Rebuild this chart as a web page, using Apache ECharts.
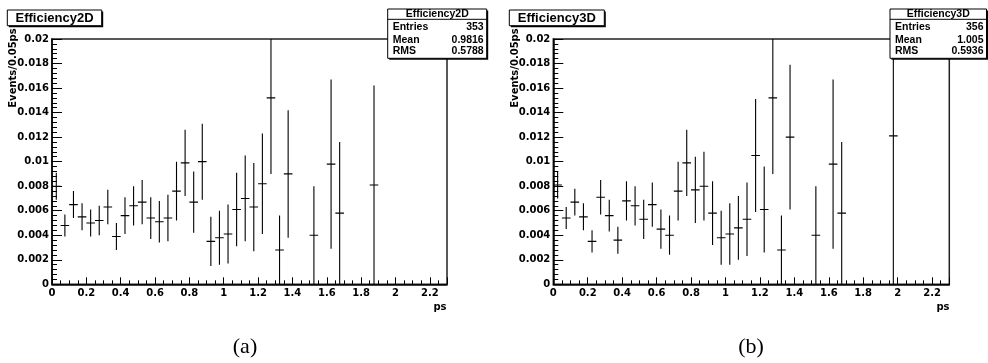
<!DOCTYPE html>
<html><head><meta charset="utf-8">
<script src="https://cdn.jsdelivr.net/npm/echarts@6/dist/echarts.min.js"></script>
<style>html,body{margin:0;padding:0;background:#fff}#c{width:988px;height:363px}</style>
</head><body><div id="c"></div>
<script>
// ---- data (bin centres in ps, value, error) ----
const x2D = [0.025,0.075,0.125,0.175,0.225,0.275,0.325,0.375,0.425,0.475,0.525,0.575,0.625,0.675,0.725,0.775,0.825,0.875,0.925,0.975,1.025,1.075,1.125,1.175,1.225,1.275,1.325,1.375,1.525,1.625,1.675,1.875];
const y2D = [0.0080,0.0048,0.0065,0.0055,0.0050,0.0052,0.0063,0.0039,0.0056,0.0064,0.0067,0.0054,0.0051,0.0054,0.0076,0.0099,0.0067,0.0100,0.0035,0.0038,0.0041,0.0061,0.0070,0.0063,0.0082,0.0152,0.0028,0.0090,0.0040,0.0098,0.0058,0.0081];
const e2D = [0.0011,0.0009,0.0011,0.0011,0.0011,0.0012,0.0014,0.0011,0.0015,0.0016,0.0018,0.0017,0.0017,0.0019,0.0024,0.0027,0.0025,0.0031,0.0020,0.0022,0.0024,0.0030,0.0035,0.0036,0.0041,0.0062,0.0028,0.0052,0.0040,0.0069,0.0058,0.0081];

const x3D = [0.025,0.075,0.125,0.175,0.225,0.275,0.325,0.375,0.425,0.475,0.525,0.575,0.625,0.675,0.725,0.775,0.825,0.875,0.925,0.975,1.025,1.075,1.125,1.175,1.225,1.275,1.325,1.375,1.525,1.625,1.675,1.975];
const y3D = [0.0081,0.0054,0.0067,0.0055,0.0035,0.0071,0.0056,0.0036,0.0068,0.0064,0.0053,0.0065,0.0045,0.0040,0.0076,0.0099,0.0077,0.0080,0.0058,0.0038,0.0041,0.0046,0.0053,0.0105,0.0061,0.0152,0.0028,0.0120,0.0040,0.0098,0.0058,0.0121];
const e3D = [0.0011,0.0009,0.0011,0.0011,0.0009,0.0014,0.0013,0.0011,0.0016,0.0016,0.0016,0.0018,0.0016,0.0016,0.0024,0.0027,0.0027,0.0028,0.0026,0.0022,0.0025,0.0026,0.0030,0.0046,0.0035,0.0062,0.0028,0.0059,0.0040,0.0069,0.0058,0.0121];

const binHalf = 0.025;
const titles = ['Efficiency2D','Efficiency3D'];
const statsLabels = ['Entries','Mean','RMS'];
const stats2D = ['353','0.9816','0.5788'];
const stats3D = ['356','1.005','0.5936'];
const yTitle = 'Events/0.05ps';
const xTitle = 'ps';
const captions = ['(a)','(b)'];

const FONT = '"Liberation Sans", Arial, Helvetica, sans-serif';
const TFONT = '"DejaVu Sans", Verdana, sans-serif';
const chart = echarts.init(document.getElementById('c'), null, {renderer:'canvas'});

function mkData(xs, ys, es){ return xs.map((x,i)=>[x, ys[i], es[i]]); }

function renderItem(params, api){
  const x = api.value(0), y = api.value(1), e = api.value(2);
  const cs = params.coordSys;
  const top = api.coord([x, y + e]);
  const bot = api.coord([x, Math.max(y - e, 0)]);
  const l = api.coord([x - binHalf, y]);
  const r = api.coord([x + binHalf, y]);
  const topY = Math.max(top[1], cs.y);
  const st = {stroke:'#000', lineWidth:1.1};
  return {type:'group', children:[
    {type:'line', shape:{x1:top[0], y1:topY, x2:bot[0], y2:bot[1]}, style:st},
    {type:'line', shape:{x1:l[0], y1:l[1], x2:r[0], y2:r[1]}, style:st}
  ]};
}

const grids = [
  {left:52, top:39, width:395, height:245.3},
  {left:553.3, top:39, width:396, height:245.3}
];

function xAx(i){
  return {type:'value', gridIndex:i, min:0, max:2.3, interval:0.2,
    axisLine:{show:true, onZero:false, lineStyle:{color:'#000', width:1.5}},
    axisTick:{show:true, inside:true, length:7, lineStyle:{color:'#000', width:1}},
    minorTick:{show:true, splitNumber:4, length:4, lineStyle:{color:'#000', width:1}},
    splitLine:{show:false},
    axisLabel:{show:true, margin:4, color:'#000', fontFamily:TFONT, fontWeight:'bold', fontSize:10, showMaxLabel:false,
      formatter:v=> (Math.abs(v-2.3)<1e-6 ? '' : String(Math.round(v*10)/10))}
  };
}
function yAx(i){
  return {type:'value', gridIndex:i, min:0, max:0.02, interval:0.002,
    axisLine:{show:true, onZero:false, lineStyle:{color:'#000', width:1.5}},
    axisTick:{show:true, inside:true, length:10, lineStyle:{color:'#000', width:1}},
    minorTick:{show:true, splitNumber:5, length:5, lineStyle:{color:'#000', width:1}},
    splitLine:{show:false},
    axisLabel:{show:true, margin:3, color:'#000', fontFamily:TFONT, fontWeight:'bold', fontSize:10,
      formatter:v=> String(Math.round(v*1000)/1000)}
  };
}

function statBox(x0, w, title, vals){
  const els = [
    {type:'rect', shape:{x:x0+1.5, y:10.5, width:w, height:49.3}, style:{fill:'#000'}, z:100},
    {type:'rect', shape:{x:x0, y:9, width:w, height:49.3}, style:{fill:'#fff', stroke:'#000', lineWidth:1}, z:101},
    {type:'line', shape:{x1:x0, y1:19.3, x2:x0+w, y2:19.3}, style:{stroke:'#000', lineWidth:1}, z:102},
    {type:'text', x:x0+w/2, y:14.3, style:{text:title, fill:'#000', font:'bold 10.5px '+FONT, align:'center', verticalAlign:'middle'}, z:103}
  ];
  const ys = [27, 40.3, 51.5];
  statsLabels.forEach((s,k)=>{
    els.push({type:'text', x:x0+5, y:ys[k], style:{text:s, fill:'#000', font:'bold 10.5px '+FONT, align:'left', verticalAlign:'middle'}, z:103});
    els.push({type:'text', x:x0+w-3, y:ys[k], style:{text:vals[k], fill:'#000', font:'bold 10.5px '+FONT, align:'right', verticalAlign:'middle'}, z:103});
  });
  return els;
}
function titleBox(x0, w, title){
  return [
    {type:'rect', shape:{x:x0+1.5, y:11.5, width:w, height:15.7}, style:{fill:'#000'}, z:100},
    {type:'rect', shape:{x:x0, y:10, width:w, height:15.7}, style:{fill:'#fff', stroke:'#000', lineWidth:1}, z:101},
    {type:'text', x:x0+w/2, y:18, style:{text:title, fill:'#000', font:'bold 13px '+FONT, align:'center', verticalAlign:'middle'}, z:103}
  ];
}
function yTitleEl(x){
  return {type:'text', x:x, y:68, rotation:Math.PI/2, style:{text:yTitle, fill:'#000', font:'bold 10px '+TFONT, align:'center', verticalAlign:'middle'}, z:103};
}

const graphics = [].concat(
  titleBox(7.3, 94.4, titles[0]), titleBox(509.3, 95, titles[1]),
  statBox(387.7, 99, titles[0], stats2D), statBox(890, 96.5, titles[1], stats3D),
  [yTitleEl(13), yTitleEl(515),
   {type:'text', x:440, y:307, style:{text:xTitle, fill:'#000', font:'bold 10px '+TFONT, align:'center', verticalAlign:'middle'}, z:103},
   {type:'text', x:943, y:307, style:{text:xTitle, fill:'#000', font:'bold 10px '+TFONT, align:'center', verticalAlign:'middle'}, z:103},
   {type:'text', x:245, y:347, style:{text:captions[0], fill:'#000', font:'22px "Liberation Serif", "Times New Roman", serif', align:'center', verticalAlign:'middle'}, z:103},
   {type:'text', x:751, y:347, style:{text:captions[1], fill:'#000', font:'22px "Liberation Serif", "Times New Roman", serif', align:'center', verticalAlign:'middle'}, z:103}]
);

chart.setOption({
  animation:false,
  grid: grids.map(g=>Object.assign({show:true, borderColor:'#222', borderWidth:1.5, backgroundColor:'transparent'}, g)),
  xAxis:[xAx(0), xAx(1)],
  yAxis:[yAx(0), yAx(1)],
  series:[
    {type:'custom', xAxisIndex:0, yAxisIndex:0, renderItem:renderItem, data:mkData(x2D,y2D,e2D), clip:true, encode:{x:0,y:1}},
    {type:'custom', xAxisIndex:1, yAxisIndex:1, renderItem:renderItem, data:mkData(x3D,y3D,e3D), clip:true, encode:{x:0,y:1}}
  ],
  graphic: graphics
});
</script>
</body></html>
